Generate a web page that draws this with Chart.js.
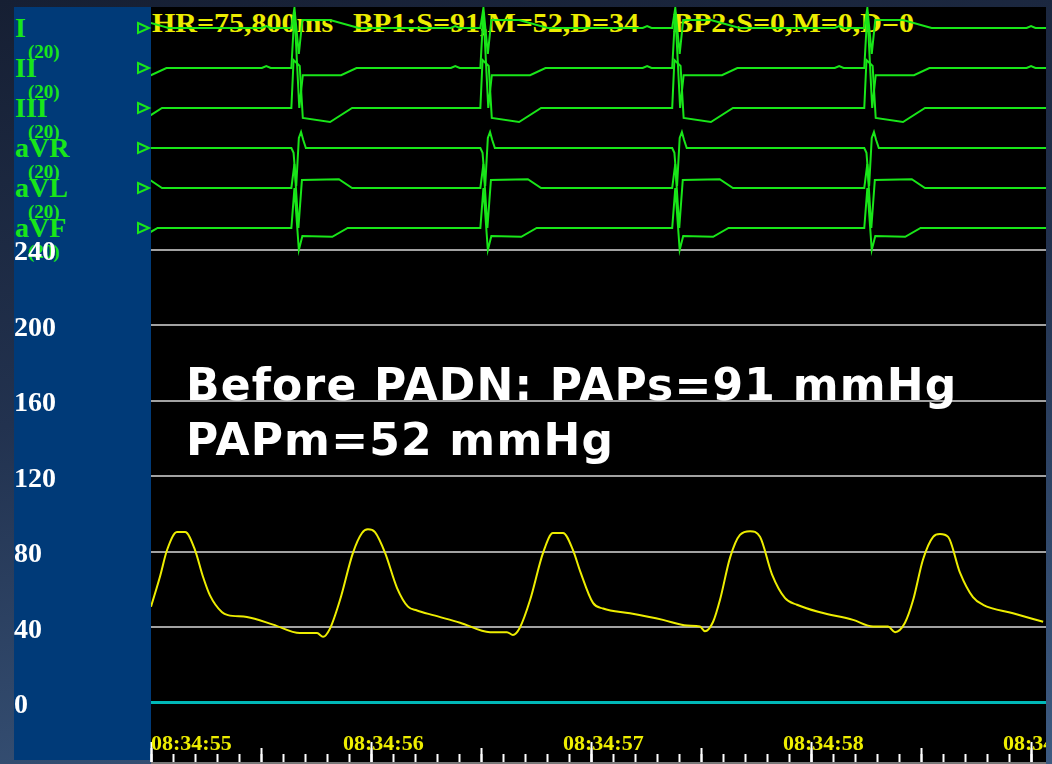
<!DOCTYPE html>
<html lang="en">
<head>
<meta charset="UTF-8">
<title>PAP before PADN</title>
<style>
  html, body { margin: 0; padding: 0; }
  body {
    width: 1052px; height: 764px; overflow: hidden; position: relative;
    background: linear-gradient(170deg, #161f33 0%, #22324f 45%, #3d5b82 100%);
  }
  .panel { position: absolute; left: 14px; top: 7px; width: 137px; height: 753px; background: #003a78; }
  .plot { position: absolute; left: 151px; top: 7px; width: 895px; height: 755px; background: #000; border-bottom: 2px solid #777; }
  .lead { position: absolute; left: 15px; font: bold 28px/28px "Liberation Serif", serif; color: #19e619; }
  .gain { position: absolute; left: 28px; font: bold 19px/19px "Liberation Serif", serif; color: #19e619; }
  .hr {
    position: absolute; top: 10px; white-space: nowrap;
    font: bold 27px/27px "Liberation Serif", serif; color: #ecec00;
    transform: scaleX(1.11); transform-origin: left top;
  }
  #chart { position: absolute; left: 0; top: 0; }
  .note {
    position: absolute; left: 186px; top: 357px; white-space: nowrap;
    font: bold 44px/55px "DejaVu Sans", sans-serif; letter-spacing: 1.2px; color: #fff;
  }
</style>
</head>
<body>

<div class="panel"></div>
<div class="plot"></div>

<div class="lead" style="top:14px">I</div>
<div class="gain" style="top:42px">(20)</div>
<div class="lead" style="top:54px">II</div>
<div class="gain" style="top:82px">(20)</div>
<div class="lead" style="top:94px">III</div>
<div class="gain" style="top:122px">(20)</div>
<div class="lead" style="top:134px">aVR</div>
<div class="gain" style="top:162px">(20)</div>
<div class="lead" style="top:174px">aVL</div>
<div class="gain" style="top:202px">(20)</div>
<div class="lead" style="top:214px">aVF</div>
<div class="gain" style="top:242px">(20)</div>

<div class="hr" style="left:152px">HR=75,800ms</div>
<div class="hr" style="left:353px">BP1:S=91,M=52,D=34</div>
<div class="hr" style="left:673px">BP2:S=0,M=0,D=0</div>

<canvas id="chart" width="1046" height="764"></canvas>

<div class="note">Before PADN: PAPs=91 mmHg<br>PAPm=52 mmHg</div>

<script src="https://cdn.jsdelivr.net/npm/chart.js"></script>
<script>
    // time axis (seconds from 08:34:55)
    var timeLabels = ['08:34:55', '08:34:56', '08:34:57', '08:34:58', '08:34:59'];
    var pressureTicks = [0, 40, 80, 120, 160, 200, 240];

    // pulmonary artery pressure trace, mmHg
    var papTime = [0.000, 0.041, 0.073, 0.118, 0.155, 0.200, 0.236, 0.268, 0.323, 0.350,
                   0.436, 0.555, 0.677, 0.755, 0.782, 0.814, 0.859, 0.918, 0.959, 0.986,
                   1.018, 1.064, 1.118, 1.168, 1.209, 1.282, 1.405, 1.541, 1.618, 1.645,
                   1.677, 1.723, 1.782, 1.827, 1.873, 1.918, 1.950, 2.009, 2.055, 2.177,
                   2.327, 2.436, 2.495, 2.518, 2.555, 2.586, 2.632, 2.677, 2.723, 2.768,
                   2.823, 2.882, 2.936, 3.041, 3.191, 3.282, 3.350, 3.382, 3.427, 3.464,
                   3.509, 3.555, 3.586, 3.623, 3.677, 3.736, 3.782, 3.918, 4.055];
    var papValue = [51, 67, 81, 90.5, 90.5, 81, 67, 57, 48, 46.5,
                    45.5, 41.5, 37, 37, 35, 39.5, 54.5, 79.5, 90, 92,
                    90.5, 79.5, 61, 51, 49, 46.5, 42.5, 37.5, 37.5, 36,
                    40, 54.5, 79.5, 90, 90, 81, 70, 53, 50, 47.5,
                    44, 41, 40.5, 38, 43, 54.5, 77, 89, 91, 88,
                    68, 55.5, 52, 48, 44, 40.5, 40.5, 37.5, 42.5, 54.5,
                    76, 88, 89.5, 88, 69, 56, 52, 47.5, 43];

    // ECG: QRS times (s) and one beat shape per lead, [seconds from QRS, mV]
    var leadNames = ['I', 'II', 'III', 'aVR', 'aVL', 'aVF'];
    var beatTimes = [-0.200, 0.664, 1.523, 2.395, 3.268, 4.140];
    var beatI   = [[-0.30, 0], [-0.16, 0], [-0.14, 0.05], [-0.12, 0], [-0.026, 0], [-0.012, 0.5], [0.008, -0.65], [0.024, 0.2], [0.15, 0.2], [0.28, 0], [0.30, 0]];
    var beatII  = [[-0.30, 0], [-0.16, 0], [-0.14, 0.05], [-0.12, 0], [-0.026, 0], [-0.012, 1.4], [0.01, -1.0], [0.026, -0.18], [0.20, -0.18], [0.27, 0], [0.30, 0]];
    var beatIII = [[-0.30, 0], [-0.026, 0], [-0.016, 1.2], [0.012, 1.05], [0.026, -0.25], [0.15, -0.35], [0.25, 0], [0.30, 0]];
    var beatAVR = [[-0.30, 0], [-0.026, 0], [-0.016, -0.12], [-0.004, -0.95], [0.008, 0.25], [0.018, 0.4], [0.028, 0.2], [0.04, 0], [0.30, 0]];
    var beatAVL = [[-0.30, 0], [-0.026, 0], [-0.012, 0.6], [0.006, -1.0], [0.022, 0.2], [0.19, 0.22], [0.25, 0], [0.30, 0]];
    var beatAVF = [[-0.30, 0], [-0.026, 0], [-0.012, 1.0], [0.008, -0.55], [0.024, -0.2], [0.16, -0.22], [0.23, 0], [0.30, 0]];
    var leadBeats = [beatI, beatII, beatIII, beatAVR, beatAVL, beatAVF];

    var ecgColor = '#19e619';
    var ecgTop = 18.35;   // baseline of lead I on the ecg axis, one unit per lead row
    var tMax = 4.068;

    function leadSeries(shape, base) {
        var pts = [];
        beatTimes.forEach(function (b) {
            shape.forEach(function (p) {
                pts.push({ x: +(b + p[0]).toFixed(3), y: base + p[1] });
            });
        });
        return pts;
    }

    var datasets = leadBeats.map(function (shape, i) {
        return {
            label: leadNames[i],
            data: leadSeries(shape, ecgTop - i),
            yAxisID: 'ecg', xAxisID: 'x',
            borderColor: ecgColor, borderWidth: 2,
            pointRadius: 0, tension: 0
        };
    });
    datasets.push({
        label: 'PAP',
        data: papTime.map(function (t, i) { return { x: t, y: papValue[i] }; }),
        yAxisID: 'y', xAxisID: 'x',
        borderColor: '#eded00', borderWidth: 2,
        pointRadius: 0, cubicInterpolationMode: 'monotone'
    });

    // bottom axes only draw tick marks / labels inside the black area
    function flatAxis(s) {
        s.height = 0;
        s.paddingLeft = 0; s.paddingRight = 0;
    }
    function tickAxis(step, len) {
        return {
            type: 'linear', axis: 'x', position: 'bottom', min: 0, max: tMax,
            afterFit: flatAxis,
            border: { display: false },
            grid: { drawOnChartArea: false, drawTicks: true, tickLength: len, tickColor: '#ffffff', tickWidth: 2 },
            ticks: { display: false, stepSize: step, includeBounds: false }
        };
    }
    function labelAxis(values, offset) {
        return {
            type: 'linear', axis: 'x', position: 'bottom', min: 0, max: tMax,
            afterBuildTicks: function (s) { s.ticks = values.map(function (v) { return { value: v }; }); },
            afterFit: flatAxis,
            border: { display: false },
            grid: { display: false, drawTicks: false },
            ticks: {
                color: '#eded00', font: { family: 'Liberation Serif', size: 22, weight: 'bold' },
                align: 'start', labelOffset: offset, padding: 4, mirror: true,
                autoSkip: false, maxRotation: 0,
                callback: function (v) { return timeLabels[Math.round(v)]; }
            }
        };
    }

    var leadMarkers = {
        id: 'leadMarkers',
        afterDatasetsDraw: function (chart) {
            var s = chart.scales.ecg, ctx = chart.ctx, x = chart.chartArea.left;
            ctx.save();
            ctx.strokeStyle = ecgColor;
            ctx.lineWidth = 2;
            leadNames.forEach(function (n, i) {
                var y = s.getPixelForValue(ecgTop - i);
                ctx.beginPath();
                ctx.moveTo(x - 13, y - 5);
                ctx.lineTo(x - 2, y);
                ctx.lineTo(x - 13, y + 5);
                ctx.closePath();
                ctx.stroke();
            });
            ctx.restore();
        }
    };

    var ctx = document.getElementById('chart').getContext('2d');
    var chart = new Chart(ctx, {
        type: 'line',
        data: { datasets: datasets },
        plugins: [leadMarkers],
        options: {
            responsive: false,
            animation: false,
            events: [],
            layout: { padding: { left: 14, top: 7, right: 0, bottom: 2 } },
            plugins: { legend: { display: false }, tooltip: { enabled: false } },
            scales: {
                x: tickAxis(0.1, -8),
                xHalf: tickAxis(0.5, -14),
                xSec: tickAxis(1, -20),
                xLabel: labelAxis([1, 2, 3, 4], -28),
                xLabel0: labelAxis([0], 0),
                y: {
                    type: 'linear', position: 'left', min: -31.3, max: 368.7,
                    afterBuildTicks: function (s) { s.ticks = pressureTicks.map(function (v) { return { value: v }; }); },
                    afterFit: function (s) { s.width = 137; s.paddingTop = 0; s.paddingBottom = 0; },
                    border: { display: false },
                    grid: {
                        drawTicks: false,
                        color: function (c) { return c.tick.value === 0 ? '#00b8b8' : '#a2a2a2'; },
                        lineWidth: function (c) { return c.tick.value === 0 ? 3 : 2; }
                    },
                    ticks: {
                        color: '#ffffff', font: { family: 'Liberation Serif', size: 28, weight: 'bold' },
                        crossAlign: 'far', labelOffset: 3, padding: 0
                    }
                },
                ecg: { type: 'linear', axis: 'y', display: false, min: 0, max: 18.875 }
            }
        }
    });
</script>

</body>
</html>
